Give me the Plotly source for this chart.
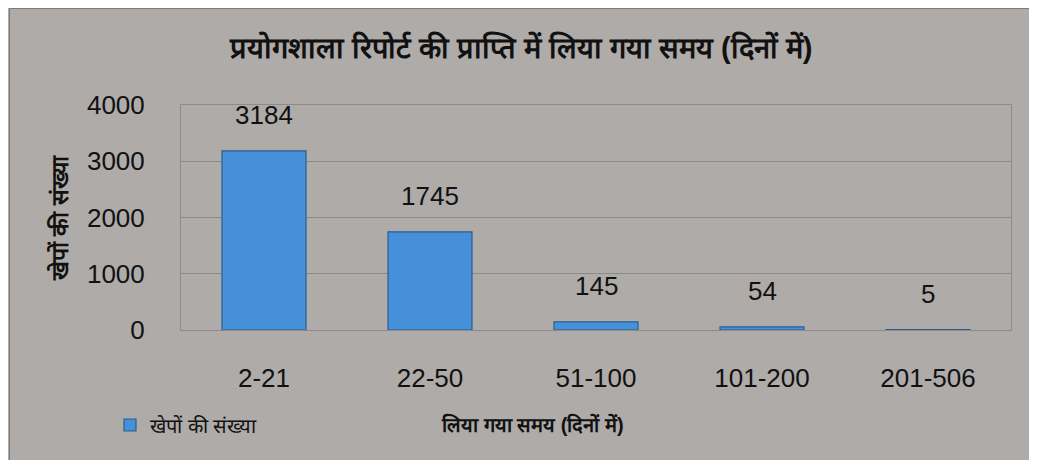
import plotly.graph_objects as go

categories = ["2-21", "22-50", "51-100", "101-200", "201-506"]
values = [3184, 1745, 145, 54, 5]
series_name = "खेपों की संख्या"
title_text = "प्रयोगशाला रिपोर्ट की प्राप्ति में लिया गया समय (दिनों में)"
x_title = "लिया गया समय (दिनों में)"
y_title = "खेपों की संख्या"
y_ticks = [0, 1000, 2000, 3000, 4000]

OFF = 8  # page body margin
W, H = 1037 - 2 * OFF, 468 - 2 * OFF
# plot area in screen pixels
SX0, SX1, SY0, SY1 = 181, 1011, 105, 330
L, R, T, B = SX0 - OFF, W - (SX1 - OFF), SY0 - OFF, H - (SY1 - OFF)
pw, ph = W - L - R, H - T - B

def px(sx):
    return (sx - OFF - L) / pw

def py(sy):
    return (H - B - (sy - OFF)) / ph

BG = "#AFABA9"
FONT = "Liberation Sans, Arial, sans-serif"

fig = go.Figure()
fig.add_trace(go.Bar(
    x=categories, y=values, name=series_name,
    marker=dict(color="#4690DA", line=dict(color="#2B5E92", width=1.2)),
    width=0.506, showlegend=True,
))

annotations = []
for c, v in zip(categories, values):
    annotations.append(dict(x=c, y=v, xref="x", yref="y", text=str(v), showarrow=False,
                            yanchor="bottom", yshift=19,
                            font=dict(family=FONT, size=26, color="#111111")))
annotations.append(dict(x=px(59), y=py(218), xref="paper", yref="paper", text="<b>" + y_title + "</b>",
                        textangle=-90, showarrow=False, xanchor="center", yanchor="middle",
                        font=dict(family=FONT, size=23, color="#111111")))
annotations.append(dict(x=px(532), y=py(424), xref="paper", yref="paper", text="<b>" + x_title + "</b>",
                        showarrow=False, xanchor="center", yanchor="middle",
                        font=dict(family=FONT, size=20, color="#111111")))

fig.update_layout(
    width=W, height=H,
    margin=dict(l=L, r=R, t=T, b=B, pad=0),
    paper_bgcolor=BG,
    plot_bgcolor=BG,
    title=dict(text="<b>" + title_text + "</b>", x=(521 - OFF) / W, xanchor="center",
               y=1 - (48 - OFF) / H, yanchor="middle", yref="container",
               font=dict(family=FONT, size=29, color="#111111")),
    showlegend=True,
    legend=dict(x=px(110), y=py(425), xanchor="left", yanchor="middle", orientation="h",
                bgcolor="rgba(0,0,0,0)", font=dict(family=FONT, size=20, color="#111111"),
                itemwidth=30),
    annotations=annotations,
    shapes=[dict(type="rect", xref="paper", yref="paper", x0=px(9.5), x1=px(1080), y0=py(520), y1=py(8.5),
                 fillcolor="rgba(0,0,0,0)", line=dict(color="#7F7B79", width=1), layer="below")],
)
fig.update_xaxes(
    type="category", showgrid=False, showline=True, linecolor="#8E8A88", linewidth=1, mirror=True,
    ticks="outside", ticklen=25, tickcolor="rgba(0,0,0,0)",
    tickfont=dict(family=FONT, size=26, color="#111111"),
)
fig.update_yaxes(
    range=[0, 4000], tickvals=y_ticks, showgrid=True, gridcolor="#8E8A88", gridwidth=1,
    showline=True, linecolor="#8E8A88", linewidth=1, mirror=True, zeroline=False,
    ticks="outside", ticklen=30, tickcolor="rgba(0,0,0,0)",
    tickfont=dict(family=FONT, size=26, color="#111111"),
)

fig.write_html("out.html")
